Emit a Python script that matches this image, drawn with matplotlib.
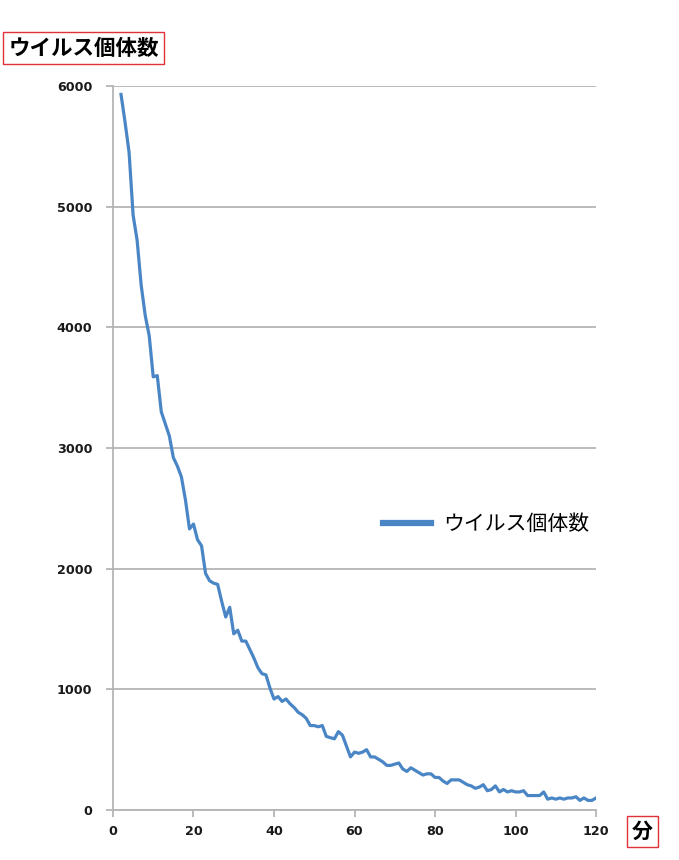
import matplotlib.pyplot as plt

plt.rcParams['font.family'] = ['Noto Sans CJK JP', 'DejaVu Sans']

minutes = list(range(2, 121))
virus_count = [
    5930, 5700, 5450, 4930, 4720, 4350, 4100, 3930, 3590, 3600,
    3300, 3200, 3100, 2920, 2850, 2760, 2570, 2330, 2370, 2240,
    2190, 1960, 1900, 1880, 1870, 1730, 1600, 1680, 1460, 1490,
    1400, 1400, 1330, 1260, 1180, 1130, 1120, 1010, 920, 940,
    900, 920, 880, 850, 810, 790, 760, 700, 700, 690,
    700, 610, 600, 590, 650, 620, 530, 440, 480, 470,
    480, 500, 440, 440, 420, 400, 370, 370, 380, 390,
    340, 320, 350, 330, 310, 290, 300, 300, 270, 270,
    240, 220, 250, 250, 250, 230, 210, 200, 180, 190,
    210, 160, 170, 200, 150, 170, 150, 160, 150, 150,
    160, 120, 120, 120, 120, 150, 90, 100, 90, 100,
    90, 100, 100, 110, 80, 100, 80, 80, 100,
]
x_ticks = [0, 20, 40, 60, 80, 100, 120]
y_ticks = [0, 1000, 2000, 3000, 4000, 5000, 6000]
series_name = "ウイルス個体数"
y_title = "ウイルス個体数"
x_title = "分"

fig = plt.figure(figsize=(6.79, 8.6), dpi=100)
ax = fig.add_axes([0.1664, 0.0581, 0.7114, 0.8419])

ax.plot(minutes, virus_count, color="#4a86c5", linewidth=2.3,
        solid_joinstyle="round", label=series_name)

ax.set_xlim(0, 120)
ax.set_ylim(0, 6000)
ax.set_xticks(x_ticks)
ax.set_yticks(y_ticks)
ax.grid(axis="y", color="#b5b5b5", linewidth=1.3)
ax.set_axisbelow(True)

for side in ["top", "right"]:
    ax.spines[side].set_visible(False)
for side in ["left", "bottom"]:
    ax.spines[side].set_color("#b5b5b5")
    ax.spines[side].set_linewidth(1.3)

ax.tick_params(axis="both", colors="#b5b5b5", length=5, width=1.3,
               labelcolor="#1a1a1a")
ax.tick_params(axis="y", pad=10)
ax.tick_params(axis="x", pad=6)
for lbl in ax.get_xticklabels() + ax.get_yticklabels():
    lbl.set_family("DejaVu Sans")
    lbl.set_fontweight("bold")
    lbl.set_fontsize(9.2)

leg = ax.legend(loc="center left", bbox_to_anchor=(0.52, 0.395), frameon=False,
                fontsize=15, handlelength=2.3, handletextpad=0.6)
leg.get_lines()[0].set_linewidth(4.5)

fig.text(0.0125, 0.944, y_title, fontsize=15.5, fontweight="bold",
         ha="left", va="center",
         bbox=dict(boxstyle="square,pad=0.25", facecolor="white",
                   edgecolor="#e0303a", linewidth=1))
fig.text(0.946, 0.033, x_title, fontsize=15, fontweight="bold",
         ha="center", va="center",
         bbox=dict(boxstyle="square,pad=0.25", facecolor="white",
                   edgecolor="#e0303a", linewidth=1))

fig.savefig("out.png", dpi=100)
